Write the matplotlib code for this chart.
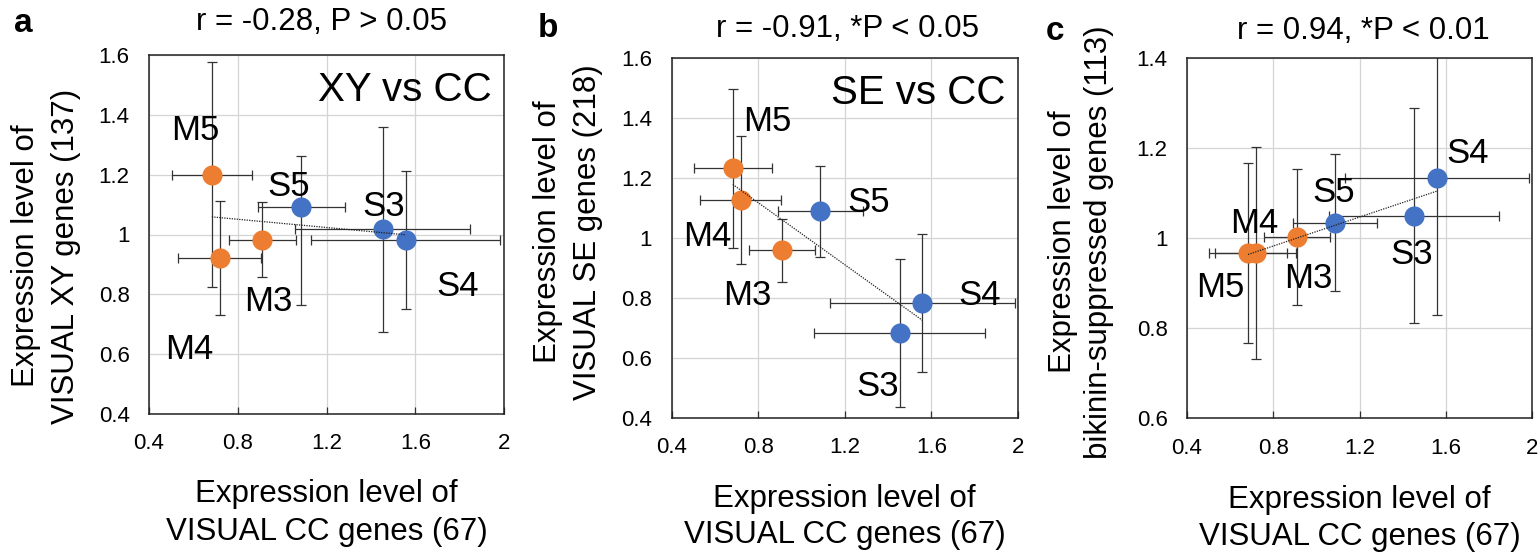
import numpy as np
import matplotlib
matplotlib.use("Agg")
import matplotlib.pyplot as plt
from matplotlib.ticker import FuncFormatter, MultipleLocator

plt.rcParams['font.family'] = ['Liberation Sans', 'DejaVu Sans']

# ---------------- data ----------------
labels = ["M5", "M4", "M3", "S5", "S3", "S4"]
groups = ["M", "M", "M", "S", "S", "S"]

# x: VISUAL CC genes (shared by all panels)
cc_mean = [0.683, 0.719, 0.911, 1.086, 1.453, 1.558]
cc_err = [0.180, 0.187, 0.152, 0.196, 0.393, 0.426]

# panel a: VISUAL XY genes
xy_mean = [1.200, 0.921, 0.982, 1.092, 1.018, 0.982]
xy_err_lo = [0.375, 0.190, 0.125, 0.329, 0.344, 0.230]
xy_err_hi = [0.377, 0.191, 0.126, 0.171, 0.341, 0.230]

# panel b: VISUAL SE genes
se_mean = [1.233, 1.128, 0.959, 1.090, 0.685, 0.783]
se_err = [0.266, 0.213, 0.105, 0.152, 0.247, 0.231]

# panel c: bikinin-suppressed genes
bk_mean = [0.967, 0.967, 1.002, 1.035, 1.050, 1.135]
bk_err = [0.200, 0.236, 0.151, 0.153, 0.239, 0.305]

titles = ["r = -0.28, P > 0.05", "r = -0.91, *P < 0.05", "r = 0.94, *P < 0.01"]
insets = ["XY vs CC", "SE vs CC", None]
letters = ["a", "b", "c"]
ylabels = [("Expression level of", "VISUAL XY genes (137)"),
           ("Expression level of", "VISUAL SE genes (218)"),
           ("Expression level of", "bikinin-suppressed genes (113)")]
xlabel = ("Expression level of", "VISUAL CC genes (67)")

# label offsets (points) per panel
offsets = [
    [(-12, 34), (-22, -63), (4, -42), (-9, 17), (1, 19), (37, -31)],
    [(25, 36), (-24, -24), (-25, -30), (35, 9), (-16, -36), (41, 8)],
    [(-20, -22), (-1, 24), (8, -27), (-1, 24), (-2, -25), (22, 20)],
]

colors = {"M": "#ED7D31", "S": "#4472C4"}

# ---------------- layout ----------------
W, H = 1540, 552
fig = plt.figure(figsize=(W / 100, H / 100), dpi=100)

def fx(px):
    return px / W

def fy(py):
    return 1 - py / H

axes_px = [(149, 55, 504, 414), (671.5, 58.3, 1018, 418), (1187, 58.3, 1532, 418.3)]
ylims = [(0.4, 1.6), (0.4, 1.6), (0.6, 1.4)]
ys = [(xy_mean, [xy_err_lo, xy_err_hi]), (se_mean, se_err), (bk_mean, bk_err)]

title_pos = [(321, 30), (848, 37), (1363, 39)]
letter_pos = [(23, 32), (548, 37), (1055, 40)]
ylab_x = [(26, 66), (548, 588), (1063, 1099)]
ylab_y = [256, 232, 242]
xlab_y = [(501.7, 540), (506.7, 543), (508, 545)]

for i in range(3):
    l, t, r, b = axes_px[i]
    ax = fig.add_axes([fx(l), fy(b), fx(r - l), (b - t) / H])
    ax.set_xlim(0.4, 2.0)
    ax.set_ylim(*ylims[i])
    ax.xaxis.set_major_locator(MultipleLocator(0.4))
    ax.yaxis.set_major_locator(MultipleLocator(0.2))
    fmt = FuncFormatter(lambda v, p: f"{v:g}")
    ax.xaxis.set_major_formatter(fmt)
    ax.yaxis.set_major_formatter(fmt)
    ax.grid(True, color="#d4d4d4", lw=0.9)
    ax.set_axisbelow(True)
    ax.tick_params(axis="x", direction="in", length=5, width=0.9, pad=14,
                   labelsize=16, color="#303030")
    ax.tick_params(axis="y", direction="in", length=0, pad=14, labelsize=16)
    for s in ax.spines.values():
        s.set_linewidth(1.1)
        s.set_color("#202020")

    ymean, yerr = ys[i]
    x = np.array(cc_mean)
    y = np.array(ymean)
    for k in range(len(labels)):
        if isinstance(yerr, list) and isinstance(yerr[0], list):
            ye = [[yerr[0][k]], [yerr[1][k]]]
        else:
            ye = yerr[k]
        ax.errorbar(cc_mean[k], ymean[k], xerr=cc_err[k], yerr=ye, fmt="none",
                    ecolor="#333333", elinewidth=0.9, capsize=3.3, capthick=0.9, zorder=2)
    for k in range(len(labels)):
        ax.plot(cc_mean[k], ymean[k], "o", ms=14.5, color=colors[groups[k]],
                mec="none", zorder=3)
        ax.annotate(labels[k], (cc_mean[k], ymean[k]), xytext=offsets[i][k],
                    textcoords="offset points", ha="center", va="center_baseline",
                    fontsize=25, zorder=5)
    # linear trend
    coef = np.polyfit(x, y, 1)
    xx = np.array([x.min(), x.max()])
    ax.plot(xx, np.polyval(coef, xx), color="#202020", lw=0.9,
            ls=(0, (1, 1)), zorder=4)

    if insets[i]:
        ax.text(0.965, 0.915, insets[i], transform=ax.transAxes, ha="right",
                va="center_baseline", fontsize=29)

    tx, ty = title_pos[i]
    fig.text(fx(tx), fy(ty), titles[i], ha="center", va="baseline", fontsize=22.5)
    lx, ly = letter_pos[i]
    fig.text(fx(lx), fy(ly), letters[i], ha="center", va="baseline",
             fontsize=24, fontweight="bold")
    ycen = fy(ylab_y[i])
    for j, line in enumerate(ylabels[i]):
        fig.text(fx(ylab_x[i][j]), ycen, line, rotation=90, ha="center",
                 va="center", fontsize=22.5)
    xcen = fx((l + r) / 2)
    for j, line in enumerate(xlabel):
        fig.text(xcen, fy(xlab_y[i][j]), line, ha="center", va="baseline",
                 fontsize=22.5)

fig.savefig("out.png", dpi=100)
